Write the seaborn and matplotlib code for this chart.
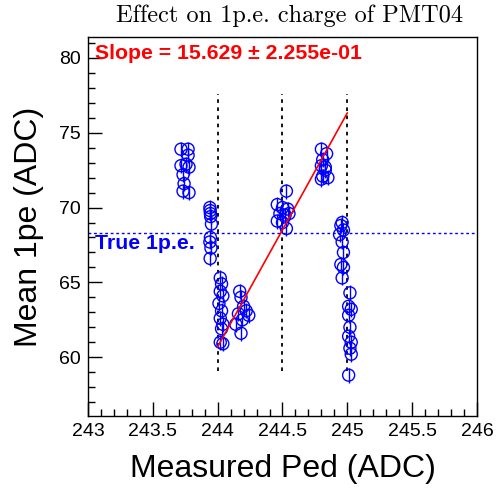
import matplotlib
matplotlib.use("Agg")
import matplotlib.pyplot as plt
import seaborn as sns
import pandas as pd
from matplotlib.ticker import MultipleLocator, FuncFormatter

# ---- data ----
ped = [243.717, 243.772, 243.772, 243.717, 243.756, 243.779, 243.733, 243.741, 243.733, 243.779,
       243.940, 243.942, 243.944, 243.946, 243.952, 243.944, 243.940, 243.948, 243.942,
       244.02, 244.03, 244.02, 244.04, 244.01, 244.03, 244.02, 244.04, 244.03, 244.02, 244.04,
       244.17, 244.18, 244.20, 244.22, 244.24, 244.16, 244.14, 244.19, 244.18,
       244.53, 244.46, 244.50, 244.54, 244.48, 244.52, 244.55, 244.46, 244.50, 244.53,
       244.80, 244.84, 244.81, 244.80, 244.83, 244.81, 244.85, 244.80, 244.83,
       244.96, 244.95, 244.97, 244.94, 244.96, 244.97, 244.95, 244.97, 244.96,
       245.02, 245.01, 245.03, 245.01, 245.02, 245.01, 245.03, 245.02, 245.03, 245.01]
mean1pe = [73.9, 73.9, 73.5, 72.8, 72.9, 72.7, 72.2, 71.6, 71.1, 71.0,
           70.0, 69.8, 69.6, 69.4, 68.9, 68.0, 67.7, 67.3, 66.6,
           65.3, 64.9, 64.4, 64.1, 63.6, 63.1, 62.6, 62.2, 61.9, 61.0, 60.9,
           64.4, 64.0, 63.4, 63.1, 62.8, 62.9, 62.2, 62.5, 61.6,
           71.1, 70.2, 70.0, 69.9, 69.6, 69.5, 69.6, 69.1, 69.0, 68.6,
           73.9, 73.6, 73.2, 72.8, 72.5, 72.1, 72.0, 71.9, 72.7,
           69.0, 68.8, 68.5, 68.2, 67.7, 67.0, 66.2, 66.0, 65.3,
           64.3, 63.4, 63.2, 62.8, 62.0, 61.4, 61.0, 60.6, 60.2, 58.8]
err = [0.5] * len(ped)

fit_slope = 15.629
fit_slope_err = 2.255e-01
fit_x = [244.0, 245.0]
fit_y0 = 60.7          # fit value at x = 244
true_1pe = 68.33
ped_marks = [244.0, 244.5, 245.0]
mark_ymin, mark_ymax = 59.1, 77.6

title = "Effect on 1p.e. charge of PMT04"
xlabel = "Measured Ped (ADC)"
ylabel = "Mean 1pe (ADC)"

# ---- plot ----
sns.set_theme(style="white")
plt.rcParams["font.family"] = ["Liberation Sans", "DejaVu Sans"]
plt.rcParams["text.color"] = "black"
plt.rcParams["axes.labelcolor"] = "black"
plt.rcParams["xtick.color"] = "black"
plt.rcParams["ytick.color"] = "black"
plt.rcParams["axes.unicode_minus"] = False

fig = plt.figure(figsize=(4.96, 4.94), dpi=100)
ax = fig.add_axes([88/496, 1 - 416/494, (477-88)/496, (416-37)/494])

df = pd.DataFrame({"ped": ped, "mean": mean1pe, "err": err})

ax.errorbar(df["ped"], df["mean"], yerr=df["err"], fmt="none",
            ecolor="blue", elinewidth=1.0, capsize=0, zorder=3)
sns.scatterplot(data=df, x="ped", y="mean", ax=ax, marker="o", s=75,
                facecolors="none", edgecolor="blue", linewidth=1.0, zorder=4)

# fit line
fit_df = pd.DataFrame({"x": fit_x,
                       "y": [fit_y0 + fit_slope * (xx - fit_x[0]) for xx in fit_x]})
sns.lineplot(data=fit_df, x="x", y="y", ax=ax, color="red", linewidth=1.2, zorder=5)

# true 1pe line
ax.axhline(true_1pe, color="blue", linestyle=(0, (2, 2)), linewidth=1.0, zorder=2)
for xm in ped_marks:
    ax.plot([xm, xm], [mark_ymin, mark_ymax], color="black",
            linestyle=(0, (2, 2.5)), linewidth=1.3, zorder=2)

ax.text(243.055, 80.3, f"Slope = {fit_slope:.3f} \u00b1 {fit_slope_err:.3e}",
        color="red", fontsize=15.3, fontweight="bold", va="center", ha="left")
ax.text(243.055, 67.6, "True 1p.e.", color="blue", fontsize=15.3,
        fontweight="bold", va="center", ha="left")

ax.set_xlim(243, 246)
ax.set_ylim(56.07, 81.4)
ax.xaxis.set_major_locator(MultipleLocator(0.5))
ax.xaxis.set_minor_locator(MultipleLocator(0.1))
ax.yaxis.set_major_locator(MultipleLocator(5))
ax.yaxis.set_minor_locator(MultipleLocator(1))
ax.xaxis.set_major_formatter(FuncFormatter(lambda v, p: f"{v:g}"))
ax.tick_params(axis="both", which="major", direction="in", length=10, width=1,
               labelsize=14, pad=5, top=False, right=False, bottom=True, left=True)
ax.tick_params(axis="both", which="minor", direction="in", length=5, width=1,
               top=False, right=False, bottom=True, left=True)
for sp in ax.spines.values():
    sp.set_color("black")
    sp.set_linewidth(1.0)

ax.set_xlabel(xlabel, fontsize=23, labelpad=10)
ax.set_ylabel(ylabel, fontsize=23, labelpad=11)
fig.text(290/496, 1 - 16/494, title, fontsize=17.5, family="cmr10",
         ha="center", va="center")

fig.savefig("out.png", dpi=100)
